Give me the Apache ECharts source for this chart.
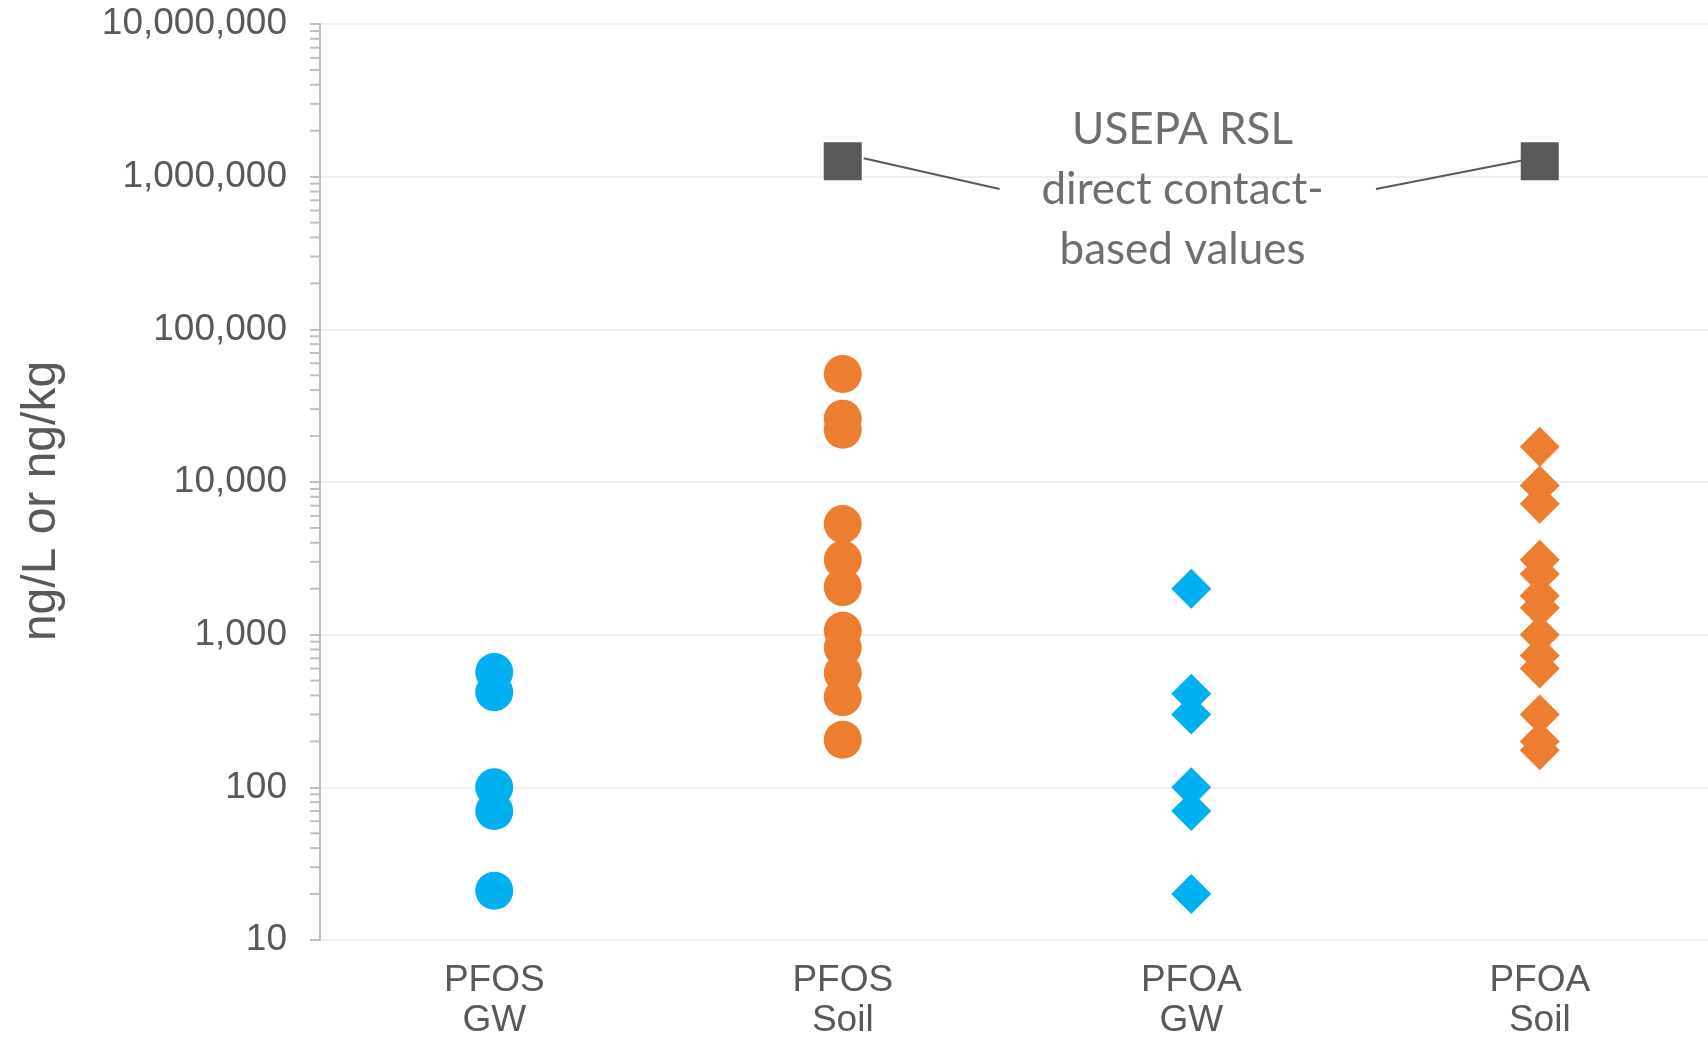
<!DOCTYPE html>
<html>
<head>
<meta charset="utf-8">
<script src="https://cdn.jsdelivr.net/npm/echarts@6/dist/echarts.min.js"></script>
<style>
  html, body { margin: 0; padding: 0; background: #fff; }
  #main { width: 1708px; height: 1037px; }
</style>
</head>
<body>
<div id="main"></div>
<script>
// categories on the x axis
const categories = ['PFOS\nGW', 'PFOS\nSoil', 'PFOA\nGW', 'PFOA\nSoil']

// measured values (ng/L for GW, ng/kg for soil)
const pfosGw = [570, 420, 100, 70, 21]
const pfosSoil = [51000, 26000, 22000, 5300, 3100, 2050, 1060, 820, 560, 390, 205]
const pfoaGw = [2000, 410, 300, 100, 70, 20]
const pfoaSoil = [17000, 9500, 7200, 3100, 2500, 1800, 1500, 1000, 730, 600, 300, 200, 175]

// USEPA RSL direct contact values, PFOS Soil and PFOA Soil
const rslCategories = [2, 4]
const rslValues = [1260000, 1260000]

// annotation text + leader lines (x in category units 1..4, y in ng)
const noteLines = ['USEPA RSL', 'direct contact-', 'based values']
const notePoint = [2.975, 820000]
const leaderLeft = [[2.06, 1320000], [2.45, 830000]]
const leaderRight = [[3.53, 830000], [3.96, 1290000]]

// y axis (log) range and minor tick steps
const yMin = 10
const yMax = 10000000
const decades = [10, 100, 1000, 10000, 100000, 1000000]
const minorSteps = [2, 3, 4, 5, 6, 7, 8, 9]

const textColor = '#595959'
const blue = '#00b0f0'
const orange = '#ed7d31'

const minorTicks = []
decades.forEach(d => minorSteps.forEach(s => minorTicks.push([0.5, d * s])))

const myChart = echarts.init(document.getElementById('main'))

myChart.setOption({
  backgroundColor: '#fff',
  animation: false,
  grid: { left: 320, right: -6, top: 24, bottom: 97, outerBoundsMode: 'none', containLabel: false },
  xAxis: [{
    type: 'category',
    data: categories,
    boundaryGap: true,
    axisLine: { show: false },
    axisTick: { show: false },
    axisLabel: {
      color: textColor,
      fontFamily: 'Liberation Sans',
      fontSize: 37,
      lineHeight: 40,
      margin: 21
    }
  }, {
    // hidden helper axis so annotation can sit between categories
    type: 'value',
    min: 0.5,
    max: 4.5,
    show: false
  }],
  yAxis: {
    type: 'log',
    logBase: 10,
    min: yMin,
    max: yMax,
    name: 'ng/L or ng/kg',
    nameLocation: 'middle',
    nameRotate: 90,
    nameGap: 254,
    nameTextStyle: {
      color: textColor,
      fontFamily: 'Liberation Sans',
      fontSize: 48,
      padding: [0, 38, 0, 0]
    },
    axisLine: { show: true, lineStyle: { color: '#bfbfbf', width: 2 } },
    axisTick: { show: true, length: 10, lineStyle: { color: '#bfbfbf', width: 2 } },
    axisLabel: {
      color: textColor,
      fontFamily: 'Liberation Sans',
      fontSize: 37,
      margin: 33,
      formatter: v => Math.round(v).toLocaleString('en-US')
    },
    splitLine: { show: true, lineStyle: { color: '#f0f0f0', width: 2 } }
  },
  series: [
    {
      // minor ticks at 2..9 of every decade
      type: 'custom',
      xAxisIndex: 1,
      silent: true,
      clip: false,
      data: minorTicks,
      renderItem: function (params, api) {
        const p = api.coord([0.5, api.value(1)])
        return {
          type: 'line',
          shape: { x1: p[0] - 10, y1: p[1], x2: p[0], y2: p[1] },
          style: { stroke: '#bfbfbf', lineWidth: 2 }
        }
      }
    },
    {
      type: 'scatter',
      symbol: 'circle',
      symbolSize: 38,
      itemStyle: { color: blue, opacity: 1 },
      data: pfosGw.map(v => [0, v])
    },
    {
      type: 'scatter',
      symbol: 'circle',
      symbolSize: 38,
      itemStyle: { color: orange, opacity: 1 },
      data: pfosSoil.map(v => [1, v])
    },
    {
      type: 'scatter',
      symbol: 'diamond',
      symbolSize: 40,
      itemStyle: { color: blue, opacity: 1 },
      data: pfoaGw.map(v => [2, v])
    },
    {
      type: 'scatter',
      symbol: 'diamond',
      symbolSize: 40,
      itemStyle: { color: orange, opacity: 1 },
      data: pfoaSoil.map(v => [3, v])
    },
    {
      type: 'line',
      xAxisIndex: 1,
      symbol: 'none',
      silent: true,
      lineStyle: { color: textColor, width: 2 },
      data: leaderLeft
    },
    {
      type: 'line',
      xAxisIndex: 1,
      symbol: 'none',
      silent: true,
      lineStyle: { color: textColor, width: 2 },
      data: leaderRight
    },
    {
      type: 'scatter',
      xAxisIndex: 1,
      symbol: 'rect',
      symbolSize: 38,
      z: 5,
      itemStyle: { color: textColor, opacity: 1 },
      data: rslCategories.map((c, i) => [c, rslValues[i]])
    },
    {
      // annotation text
      type: 'scatter',
      xAxisIndex: 1,
      symbol: 'circle',
      symbolSize: 1,
      silent: true,
      itemStyle: { color: 'transparent' },
      label: {
        show: true,
        position: 'inside',
        formatter: noteLines.join('\n'),
        color: '#4a4a4a',
        fontFamily: 'Lato',
        fontSize: 44,
        lineHeight: 60,
        align: 'center',
        verticalAlign: 'middle'
      },
      data: [notePoint]
    }
  ]
})
</script>
</body>
</html>
